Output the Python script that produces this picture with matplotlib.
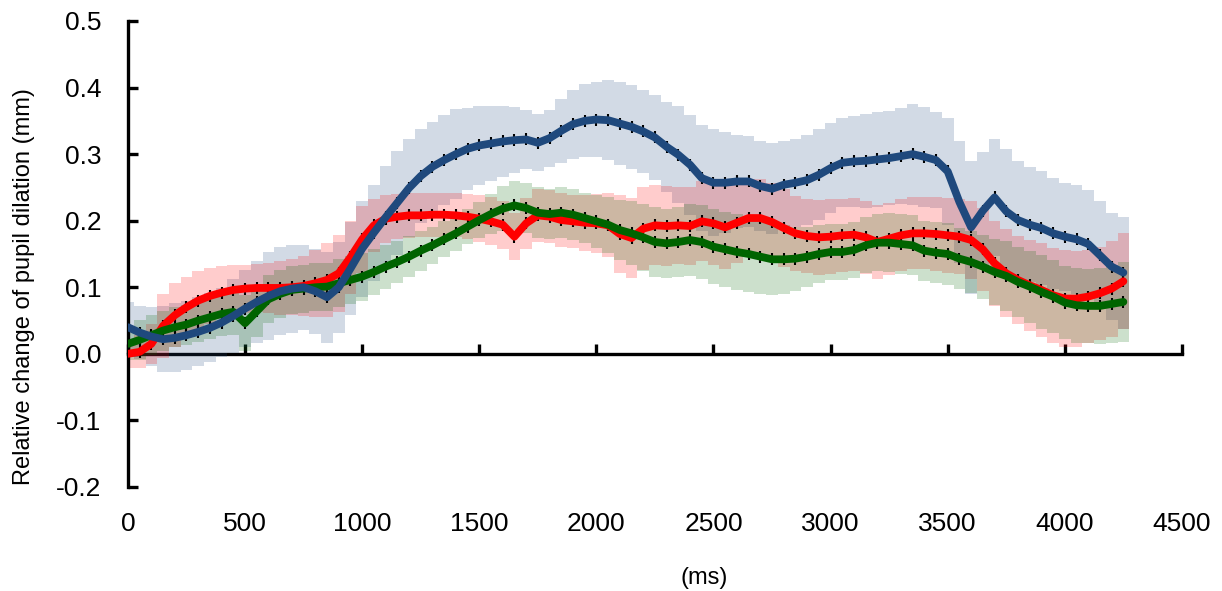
import matplotlib

matplotlib.use("Agg")
import matplotlib.pyplot as plt
import numpy as np

plt.rcParams["font.family"] = ["Liberation Sans", "DejaVu Sans"]
plt.rcParams["axes.unicode_minus"] = False

# time grid (ms), one sample every 50 ms
time_ms = list(range(0, 4300, 50))

blue_mean = [
    0.040, 0.032, 0.026, 0.022, 0.024, 0.028, 0.033, 0.039, 0.047, 0.057,
    0.068, 0.078, 0.087, 0.094, 0.098, 0.100, 0.094, 0.085, 0.100, 0.128,
    0.158, 0.182, 0.205, 0.227, 0.249, 0.267, 0.281, 0.291, 0.300, 0.308,
    0.313, 0.316, 0.319, 0.321, 0.322, 0.317, 0.324, 0.335, 0.345, 0.350,
    0.352, 0.351, 0.346, 0.341, 0.334, 0.325, 0.311, 0.299, 0.284, 0.264,
    0.257, 0.257, 0.259, 0.259, 0.252, 0.248, 0.254, 0.257, 0.261, 0.269,
    0.279, 0.287, 0.289, 0.290, 0.292, 0.294, 0.297, 0.300, 0.296, 0.291,
    0.274, 0.228, 0.190, 0.215, 0.235, 0.214, 0.201, 0.194, 0.189, 0.181,
    0.176, 0.172, 0.165, 0.148, 0.131, 0.122,
]
blue_err = [
    0.038, 0.040, 0.045,
    0.050, 0.052, 0.052, 0.052, 0.052, 0.052, 0.055,
    0.058, 0.062, 0.066, 0.066, 0.066, 0.064, 0.064, 0.068, 0.068, 0.070, 0.072,
    0.072, 0.077, 0.078, 0.074, 0.070, 0.067, 0.068, 0.068,
    0.062, 0.059, 0.057, 0.053, 0.050,
    0.044, 0.043, 0.043,
    0.048, 0.052, 0.055, 0.056,
    0.060, 0.062, 0.063, 0.063, 0.064, 0.068,
    0.073, 0.075, 0.080, 0.080,
    0.076, 0.070, 0.068, 0.067, 0.068, 0.065, 0.066, 0.068, 0.068, 0.068,
    0.067, 0.069, 0.071, 0.071, 0.071, 0.072,
    0.076, 0.075, 0.072, 0.080,
    0.092, 0.100, 0.088, 0.088, 0.093,
    0.088, 0.086, 0.085, 0.083, 0.081, 0.082, 0.081, 0.081, 0.080, 0.084,
]

red_mean = [
    0.000, 0.003, 0.015, 0.042, 0.058, 0.070, 0.080, 0.087, 0.092, 0.096,
    0.098, 0.099, 0.099, 0.099, 0.100, 0.102, 0.106, 0.111, 0.121, 0.145,
    0.172, 0.193, 0.203, 0.206, 0.208, 0.208, 0.209, 0.209, 0.208, 0.206,
    0.203, 0.199, 0.194, 0.176, 0.196, 0.208, 0.206, 0.201, 0.199, 0.197,
    0.196, 0.193, 0.180, 0.174, 0.188, 0.193, 0.192, 0.193, 0.192, 0.199,
    0.196, 0.190, 0.197, 0.204, 0.204, 0.198, 0.189, 0.181, 0.177, 0.175,
    0.176, 0.178, 0.179, 0.175, 0.168, 0.173, 0.178, 0.181, 0.181, 0.180,
    0.178, 0.176, 0.171, 0.157, 0.136, 0.121, 0.111, 0.103, 0.096, 0.088,
    0.083, 0.083, 0.086, 0.091, 0.098, 0.109,
]
red_err = [
    0.022, 0.025, 0.030,
    0.048, 0.048, 0.046, 0.044,
    0.042, 0.040, 0.038, 0.036, 0.036, 0.038, 0.040, 0.042,
    0.045, 0.050, 0.055, 0.058, 0.055, 0.050,
    0.040, 0.036, 0.034, 0.034, 0.033, 0.033, 0.033, 0.033, 0.034, 0.035,
    0.036, 0.036, 0.035,
    0.038, 0.040, 0.040, 0.040, 0.040, 0.042, 0.044, 0.048,
    0.058, 0.060, 0.062, 0.060, 0.060, 0.058, 0.058, 0.060, 0.062, 0.062,
    0.060, 0.058, 0.058, 0.058, 0.058,
    0.056, 0.056, 0.056, 0.056, 0.055, 0.055, 0.055, 0.055, 0.054, 0.054,
    0.054, 0.054, 0.055, 0.056, 0.056, 0.058,
    0.062, 0.064, 0.066, 0.066, 0.068, 0.070, 0.071, 0.073, 0.072, 0.070,
    0.070, 0.072, 0.072,
]

green_mean = [
    0.015, 0.021, 0.028, 0.035, 0.040, 0.044, 0.050, 0.055, 0.060, 0.063,
    0.046, 0.064, 0.082, 0.090, 0.096, 0.098, 0.100, 0.101, 0.106, 0.111,
    0.116, 0.123, 0.131, 0.138, 0.146, 0.155, 0.163, 0.172, 0.181, 0.191,
    0.201, 0.210, 0.218, 0.223, 0.219, 0.212, 0.210, 0.212, 0.209, 0.204,
    0.199, 0.194, 0.186, 0.181, 0.175, 0.168, 0.166, 0.168, 0.171, 0.168,
    0.161, 0.157, 0.153, 0.150, 0.146, 0.142, 0.142, 0.143, 0.146, 0.150,
    0.153, 0.153, 0.156, 0.163, 0.167, 0.167, 0.165, 0.163, 0.155, 0.152,
    0.150, 0.143, 0.138, 0.131, 0.123, 0.117, 0.108, 0.101, 0.093, 0.086,
    0.077, 0.073, 0.072, 0.072, 0.075, 0.078,
]
green_err = [
    0.025, 0.030, 0.030, 0.030, 0.030, 0.030, 0.032, 0.032, 0.033, 0.034,
    0.042, 0.038, 0.036, 0.036, 0.036, 0.036, 0.036, 0.036, 0.036, 0.036, 0.036,
    0.034, 0.033, 0.032, 0.031, 0.030, 0.028, 0.027, 0.026, 0.026, 0.027,
    0.030, 0.034, 0.037, 0.038, 0.038, 0.038, 0.038, 0.038, 0.038, 0.040,
    0.042, 0.045,
    0.048, 0.050, 0.052, 0.052, 0.052, 0.054, 0.056, 0.056, 0.056, 0.057,
    0.057, 0.056, 0.054, 0.052, 0.048, 0.045, 0.044, 0.042,
    0.042, 0.042, 0.042, 0.043, 0.044, 0.045, 0.045, 0.045, 0.046, 0.046,
    0.046, 0.046,
    0.048, 0.050, 0.052, 0.053, 0.054, 0.055, 0.055, 0.055, 0.056, 0.056,
    0.057, 0.058, 0.060,
]

x_ticks = [0, 500, 1000, 1500, 2000, 2500, 3000, 3500, 4000, 4500]
y_ticks = [-0.2, -0.1, 0.0, 0.1, 0.2, 0.3, 0.4, 0.5]

series = [
    (blue_mean, blue_err, "#1f497d"),
    (red_mean, red_err, "#ff0000"),
    (green_mean, green_err, "#006400"),
]

fig = plt.figure(figsize=(12.22, 5.91), dpi=100)
ax = fig.add_axes([0.1047, 0.176, 0.8625, 0.7885])

t = np.array(time_ms)

# error bands as floating translucent bars
for mean, err, color in series:
    mean = np.array(mean)
    err = np.array(err)
    ax.bar(t, 2 * err, bottom=mean - err, width=50, color=color, alpha=0.2,
           linewidth=0, zorder=1)

# lines: red, green, then blue on top; black ticks peek out as dots
for mean, err, color in [series[1], series[2], series[0]]:
    ax.plot(t, mean, linestyle="none", marker="|", markersize=8.4,
            markeredgewidth=1.5, color="black", zorder=3)
    ax.plot(t, mean, color=color, linewidth=5.6, solid_capstyle="round",
            solid_joinstyle="round", zorder=4)

ax.set_xlim(0, 4500)
ax.set_ylim(-0.2, 0.5)

for side in ["top", "right", "bottom"]:
    ax.spines[side].set_visible(False)
ax.spines["left"].set_linewidth(2.4)

ax.set_yticks(y_ticks)
ax.set_yticklabels([f"{v:.1f}" for v in y_ticks])
ax.tick_params(axis="y", direction="in", length=7, width=2.4, pad=19,
               labelsize=19)
ax.set_xticks(x_ticks)
ax.set_xticklabels([str(v) for v in x_ticks])
ax.tick_params(axis="x", length=0, pad=18, labelsize=19)

# x axis line drawn at y = 0
sec = ax.secondary_xaxis(0, transform=ax.transData)
sec.set_xticks(x_ticks)
sec.tick_params(axis="x", direction="in", length=7, width=2.4,
                labelbottom=False)
sec.spines["bottom"].set_linewidth(2.4)

ax.set_ylabel("Relative change of pupil dilation (mm)", fontsize=17)
ax.yaxis.set_label_coords(-0.088, 0.43)
ax.set_xlabel("(ms)", fontsize=17)
ax.xaxis.set_label_coords(0.547, -0.172)

fig.savefig("out.png", dpi=100)
